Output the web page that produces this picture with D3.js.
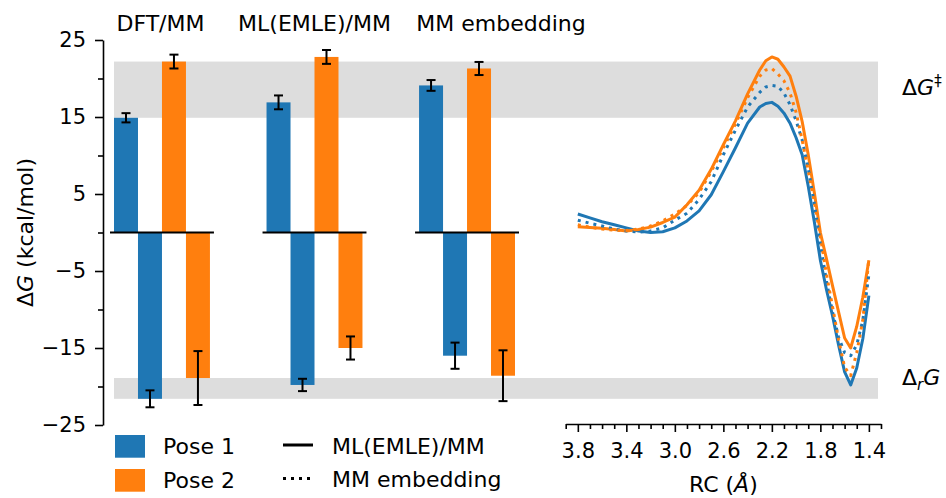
<!DOCTYPE html>
<html>
<head>
<meta charset="utf-8">
<script src="https://cdn.jsdelivr.net/npm/d3@7"></script>
<style>
  html, body { margin: 0; padding: 0; background: #fff; }
  svg { display: block; font-family: "DejaVu Sans", sans-serif; }
</style>
</head>
<body>
<svg id="chart" width="946" height="498"></svg>
<script>
// ---- Free-energy data (kcal/mol) ----
const methods = ["DFT/MM", "ML(EMLE)/MM", "MM embedding"];

// activation free energies, ΔG‡
const barrierPose1 = [14.9, 16.9, 19.1];
const barrierErrPose1 = [0.6, 0.9, 0.7];
const barrierPose2 = [22.2, 22.8, 21.3];
const barrierErrPose2 = [0.9, 0.9, 0.85];

// reaction free energies, ΔrG
const reactionPose1 = [-21.6, -19.8, -16.0];
const reactionErrPose1 = [1.1, 0.8, 1.7];
const reactionPose2 = [-18.9, -15.0, -18.6];
const reactionErrPose2 = [3.5, 1.5, 3.3];

// free-energy profiles along the reaction coordinate (Å)
const rc = [3.8, 3.7, 3.6, 3.5, 3.4, 3.3, 3.2, 3.1, 3.0, 2.9, 2.8, 2.7, 2.6, 2.5, 2.4,
            2.3, 2.25, 2.2, 2.15, 2.1, 2.05, 2.0, 1.95, 1.9, 1.85, 1.8, 1.75, 1.7, 1.65, 1.6, 1.55, 1.5, 1.45, 1.4];
const profilePose1ML = [2.4, 1.9, 1.4, 1.0, 0.6, 0.2, 0.0, 0.1, 0.6, 1.5, 2.8, 4.9, 7.9, 11.0, 14.2,
            16.3, 16.75, 16.9, 16.4, 15.5, 14.2, 12.3, 10.1, 6.0, 1.4, -3.6, -7.4, -10.8, -14.6, -18.1, -19.8, -17.6, -13.8, -8.2];
const profilePose1MM = [1.6, 1.2, 0.85, 0.45, 0.2, 0.05, 0.2, 0.6, 1.6, 2.5, 4.3, 6.6, 10.1, 13.3, 16.3,
            18.2, 18.9, 19.1, 19.0, 18.1, 16.6, 14.5, 12.0, 8.3, 3.8, -1.5, -6.3, -10.3, -13.6, -15.6, -16.0, -14.6, -11.4, -5.5];
const profilePose2ML = [0.75, 0.65, 0.55, 0.4, 0.2, 0.4, 0.7, 1.3, 2.0, 3.6, 5.5, 8.2, 11.4, 14.5, 18.0,
            21.1, 22.3, 22.8, 22.5, 21.5, 20.3, 17.7, 14.4, 10.1, 5.2, 0.0, -3.4, -6.9, -10.3, -13.7, -15.0, -12.2, -8.4, -3.6];
const profilePose2MM = [1.0, 0.7, 0.45, 0.3, 0.25, 0.45, 0.85, 1.5, 2.4, 3.5, 5.2, 7.9, 11.0, 14.1, 17.5,
            20.3, 21.1, 21.3, 20.6, 19.7, 18.1, 15.6, 12.0, 8.0, 4.0, -0.5, -5.4, -9.6, -13.9, -17.5, -18.6, -15.6, -11.4, -3.4];

// axis ticks
const yMajorTicks = [25, 15, 5, -5, -15, -25];
const yMinorTicks = [20, 10, 0, -10, -20];
const rcMajorTicks = [3.8, 3.4, 3.0, 2.6, 2.2, 1.8, 1.4];
const rcMinorTicks = [3.9, 3.7, 3.6, 3.5, 3.3, 3.2, 3.1, 2.9, 2.8, 2.7, 2.5, 2.4, 2.3, 2.1, 2.0, 1.9, 1.7, 1.6, 1.5, 1.3];

// ---- styling ----
const BLUE = "#1f77b4", ORANGE = "#ff7f0e", BAND = "#dddddd";
const svg = d3.select("#chart");

// shared energy scale
const y = d3.scaleLinear().domain([-25, 25]).range([425, 40]);

// bar panel scales
const gx = d3.scaleBand().domain(methods).range([114, 515]).paddingInner(0.371).paddingOuter(0);
const barKeys = ["barrier1", "reaction1", "barrier2", "reaction2"];
const bx = d3.scaleBand().domain(barKeys).range([0, gx.bandwidth()]).padding(0);

// profile panel scale
const xr = d3.scaleLinear().domain([3.9, 1.3]).range([565.7, 881]);

// ---- shaded reference ranges (DFT/MM spread) ----
const bandLeft = gx.range()[0];
const bandRight = xr.range()[1] - 3;
const barrierBand = d3.extent([barrierPose1[0], barrierPose2[0]]);
const reactionBand = d3.extent([reactionPose1[0], reactionPose2[0]]);
svg.append("g").selectAll("rect")
  .data([barrierBand, reactionBand])
  .join("rect")
  .attr("x", bandLeft)
  .attr("width", bandRight - bandLeft)
  .attr("y", d => y(d[1]))
  .attr("height", d => y(d[0]) - y(d[1]))
  .attr("fill", BAND);

// ---- bars ----
const bars = [];
methods.forEach((m, i) => {
  bars.push({ method: m, key: "barrier1", value: barrierPose1[i], err: barrierErrPose1[i], color: BLUE });
  bars.push({ method: m, key: "reaction1", value: reactionPose1[i], err: reactionErrPose1[i], color: BLUE });
  bars.push({ method: m, key: "barrier2", value: barrierPose2[i], err: barrierErrPose2[i], color: ORANGE });
  bars.push({ method: m, key: "reaction2", value: reactionPose2[i], err: reactionErrPose2[i], color: ORANGE });
});
const barX = d => gx(d.method) + bx(d.key);

svg.append("g").selectAll("rect")
  .data(bars)
  .join("rect")
  .attr("x", barX)
  .attr("width", bx.bandwidth())
  .attr("y", d => y(Math.max(0, d.value)))
  .attr("height", d => Math.abs(y(d.value) - y(0)))
  .attr("fill", d => d.color);

// baseline under each method group
svg.append("g").selectAll("line")
  .data(methods)
  .join("line")
  .attr("x1", m => gx(m) - 4)
  .attr("x2", m => gx(m) + gx.bandwidth() + 4)
  .attr("y1", y(0)).attr("y2", y(0))
  .attr("stroke", "#000").attr("stroke-width", 1.8);

// error bars
const cap = 4.5;
const eb = svg.append("g").attr("stroke", "#000").attr("stroke-width", 2);
bars.forEach(d => {
  const cx = barX(d) + bx.bandwidth() / 2;
  eb.append("line").attr("x1", cx).attr("x2", cx).attr("y1", y(d.value - d.err)).attr("y2", y(d.value + d.err));
  eb.append("line").attr("x1", cx - cap).attr("x2", cx + cap).attr("y1", y(d.value - d.err)).attr("y2", y(d.value - d.err));
  eb.append("line").attr("x1", cx - cap).attr("x2", cx + cap).attr("y1", y(d.value + d.err)).attr("y2", y(d.value + d.err));
});

// method titles above the groups
const titleShift = [-1.5, 0, 34];
svg.append("g").selectAll("text")
  .data(methods)
  .join("text")
  .attr("x", (m, i) => gx(m) + gx.bandwidth() / 2 + titleShift[i])
  .attr("y", 31)
  .attr("text-anchor", "middle")
  .attr("font-size", 22)
  .text(m => m);

// ---- left energy axis ----
const yAxisX = 103;
const yAxis = svg.append("g").attr("transform", `translate(${yAxisX},0)`)
  .call(d3.axisLeft(y).tickValues(yMajorTicks).tickSize(8).tickSizeOuter(0).tickPadding(9));
svg.append("g").attr("transform", `translate(${yAxisX},0)`)
  .call(d3.axisLeft(y).tickValues(yMinorTicks).tickSize(5).tickFormat("").tickSizeOuter(0))
  .call(g => g.select(".domain").remove());
svg.selectAll(".tick line").attr("stroke-width", 1.6);
yAxis.select(".domain").attr("stroke-width", 1.6);
yAxis.selectAll("text").attr("font-size", 21).attr("font-family", "DejaVu Sans").attr("fill", "#000");

const yLabel = svg.append("text")
  .attr("transform", `translate(33,${y(0)}) rotate(-90)`)
  .attr("text-anchor", "middle")
  .attr("font-size", 22);
yLabel.append("tspan").text("Δ");
yLabel.append("tspan").attr("font-style", "italic").text("G");
yLabel.append("tspan").text(" (kcal/mol)");

// ---- free-energy profiles ----
const profiles = [
  { values: profilePose1ML, color: BLUE, dotted: false },
  { values: profilePose2ML, color: ORANGE, dotted: false },
  { values: profilePose1MM, color: BLUE, dotted: true },
  { values: profilePose2MM, color: ORANGE, dotted: true }
];
const line = d3.line().x(d => xr(d[0])).y(d => y(d[1]));
svg.append("g").selectAll("path")
  .data(profiles)
  .join("path")
  .attr("d", p => line(rc.map((r, i) => [r, p.values[i]])))
  .attr("fill", "none")
  .attr("stroke", p => p.color)
  .attr("stroke-width", 3)
  .attr("stroke-linejoin", "round")
  .attr("stroke-dasharray", p => p.dotted ? "3,5" : null);

// ---- reaction-coordinate axis ----
const xAxisY = y(-25) - 1;
const xAxis = svg.append("g").attr("transform", `translate(0,${xAxisY})`)
  .call(d3.axisBottom(xr).tickValues(rcMajorTicks).tickFormat(d3.format(".1f")).tickSize(8).tickSizeOuter(0).tickPadding(11.5));
svg.append("g").attr("transform", `translate(0,${xAxisY})`)
  .call(d3.axisBottom(xr).tickValues(rcMinorTicks).tickSize(5).tickFormat("").tickSizeOuter(0))
  .call(g => g.select(".domain").remove());
svg.selectAll(".tick line").attr("stroke-width", 1.6);
xAxis.select(".domain").attr("stroke-width", 1.6);
xAxis.selectAll("text").attr("font-size", 21).attr("font-family", "DejaVu Sans").attr("fill", "#000");

const xLabel = svg.append("text")
  .attr("x", (xr.range()[0] + xr.range()[1]) / 2)
  .attr("y", 492)
  .attr("text-anchor", "middle")
  .attr("font-size", 22);
xLabel.append("tspan").text("RC (");
xLabel.append("tspan").attr("font-style", "italic").text("Å");
xLabel.append("tspan").text(")");

// ---- band labels ----
const lblG = svg.append("text").attr("x", 902).attr("y", 95).attr("font-size", 22);
lblG.append("tspan").text("Δ");
lblG.append("tspan").attr("font-style", "italic").text("G");
lblG.append("tspan").attr("font-size", 15).attr("dy", -9).text("‡");

const lblR = svg.append("text").attr("x", 902).attr("y", 385).attr("font-size", 22);
lblR.append("tspan").text("Δ");
lblR.append("tspan").attr("font-style", "italic").attr("font-size", 15).attr("dy", 5).text("r");
lblR.append("tspan").attr("font-style", "italic").attr("dy", -5).text("G");

// ---- legends ----
const poseLegend = [
  { label: "Pose 1", color: BLUE },
  { label: "Pose 2", color: ORANGE }
];
const lg = svg.append("g");
poseLegend.forEach((d, i) => {
  const top = 435 + i * 34;
  lg.append("rect").attr("x", 115).attr("y", top).attr("width", 30).attr("height", 22.7).attr("fill", d.color);
  lg.append("text").attr("x", 163).attr("y", top + 19).attr("font-size", 22).text(d.label);
});

const styleLegend = [
  { label: "ML(EMLE)/MM", dotted: false },
  { label: "MM embedding", dotted: true }
];
styleLegend.forEach((d, i) => {
  const cy = 445 + i * 33.5;
  lg.append("line").attr("x1", 283).attr("x2", 313).attr("y1", cy).attr("y2", cy)
    .attr("stroke", "#000").attr("stroke-width", 3)
    .attr("stroke-dasharray", d.dotted ? "3,5" : null);
  lg.append("text").attr("x", 332).attr("y", cy + 8.5).attr("font-size", 22).text(d.label);
});
</script>
</body>
</html>
